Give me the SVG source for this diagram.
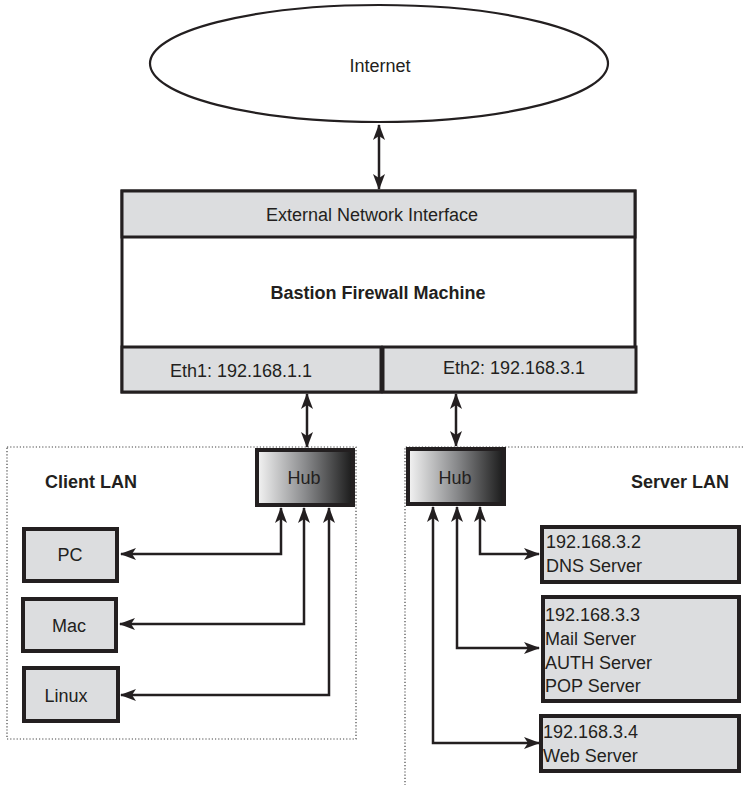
<svg xmlns="http://www.w3.org/2000/svg" width="743" height="785" viewBox="0 0 743 785">
<style>
text{font-family:"Liberation Sans",Arial,sans-serif;font-size:18px;fill:#231f20}
.b{font-weight:bold}
.box{fill:#dcdddf;stroke:#231f20;stroke-width:4}
.lan{fill:none;stroke:#444;stroke-width:1.2;stroke-dasharray:1.2 2}
.con{fill:none;stroke:#231f20;stroke-width:2.5;marker-start:url(#ah);marker-end:url(#ah)}
</style>
<defs>
<marker id="ah" viewBox="0 0 16 12" refX="15" refY="6" markerWidth="16" markerHeight="12" markerUnits="userSpaceOnUse" orient="auto-start-reverse">
<path d="M0,0 L16,6 L0,12 L4,6 z" fill="#231f20"/>
</marker>
<linearGradient id="hubg" x1="0" y1="0" x2="1" y2="0">
<stop offset="0" stop-color="#f4f4f4"/>
<stop offset="0.5" stop-color="#8a8b8d"/>
<stop offset="1" stop-color="#1a1a1a"/>
</linearGradient>
</defs>
<rect width="743" height="785" fill="#fff"/>

<g id="lans">
<rect class="lan" x="7" y="447" width="349" height="292"/>
<path class="lan" d="M743,447 H405 V785"/>
</g>

<g id="internet">
<ellipse cx="379" cy="63.5" rx="229" ry="58.5" fill="#fff" stroke="#231f20" stroke-width="2.2"/>
<text x="380" y="72" text-anchor="middle">Internet</text>
</g>

<g id="firewall">
<rect x="122" y="191" width="513" height="201" fill="#fff" stroke="#231f20" stroke-width="3"/>
<rect x="122" y="191" width="513" height="46" fill="#dcdddf" stroke="#231f20" stroke-width="3"/>
<text x="372" y="221" text-anchor="middle">External Network Interface</text>
<text class="b" x="378" y="299" text-anchor="middle">Bastion Firewall Machine</text>
</g>

<g id="eth1">
<rect x="122" y="347" width="259" height="45" fill="#dcdddf" stroke="#231f20" stroke-width="3"/>
<text x="241" y="377" text-anchor="middle">Eth1: 192.168.1.1</text>
</g>
<g id="eth2">
<rect x="383" y="347" width="253" height="45" fill="#dcdddf" stroke="#231f20" stroke-width="3"/>
<text x="514" y="374" text-anchor="middle">Eth2: 192.168.3.1</text>
</g>

<g id="client-lan-label"><text class="b" x="45" y="488">Client LAN</text></g>
<g id="server-lan-label"><text class="b" x="631" y="488">Server LAN</text></g>

<g id="client-hub">
<rect x="257" y="450" width="96" height="55" fill="url(#hubg)" stroke="#231f20" stroke-width="4"/>
<text x="304" y="484" text-anchor="middle">Hub</text>
</g>
<g id="server-hub">
<rect x="408" y="449" width="96" height="55" fill="url(#hubg)" stroke="#231f20" stroke-width="4"/>
<text x="455" y="484" text-anchor="middle">Hub</text>
</g>

<g id="pc">
<rect class="box" x="24" y="529" width="93" height="52"/>
<text x="70" y="561" text-anchor="middle">PC</text>
</g>
<g id="mac">
<rect class="box" x="23" y="599" width="93" height="52"/>
<text x="69" y="632" text-anchor="middle">Mac</text>
</g>
<g id="linux">
<rect class="box" x="24" y="668" width="94" height="53"/>
<text x="66" y="702" text-anchor="middle">Linux</text>
</g>

<g id="dns">
<rect class="box" x="542" y="527" width="197" height="55"/>
<text x="546" y="548">192.168.3.2</text>
<text x="546" y="572">DNS Server</text>
</g>
<g id="mail">
<rect class="box" x="543" y="597" width="196" height="104"/>
<text x="545" y="621">192.168.3.3</text>
<text x="545" y="645">Mail Server</text>
<text x="545" y="669">AUTH Server</text>
<text x="545" y="692">POP Server</text>
</g>
<g id="web">
<rect class="box" x="541" y="716" width="198" height="55"/>
<text x="543" y="738">192.168.3.4</text>
<text x="543" y="762">Web Server</text>
</g>

<g id="connectors">
<path class="con" d="M379,125 V189"/>
<path class="con" d="M307,394 V447"/>
<path class="con" d="M456,394 V446"/>
<path class="con" d="M281,508 V554 H121"/>
<path class="con" d="M304,508 V624 H120"/>
<path class="con" d="M329,508 V695 H121"/>
<path class="con" d="M480,507 V554 H539"/>
<path class="con" d="M457,507 V648 H539"/>
<path class="con" d="M433,507 V743 H539"/>
</g>
</svg>
